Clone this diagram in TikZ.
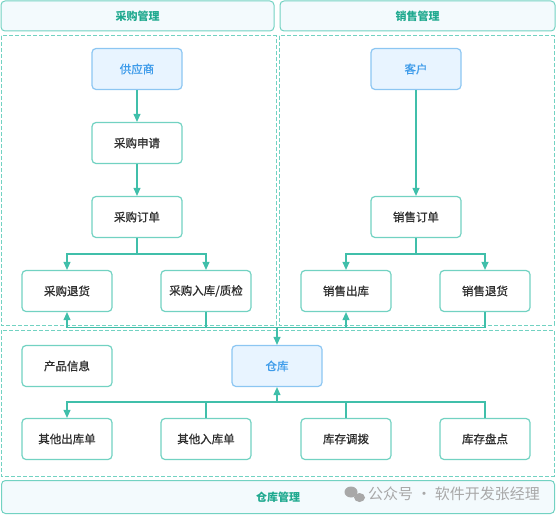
\documentclass[tikz,border=0pt]{standalone}
\usepackage{fontspec}
\setmainfont{Noto Sans CJK SC}
\newfontfamily\medfont[FakeBold=0.9]{Noto Sans CJK SC}
\usetikzlibrary{arrows.meta}
\definecolor{nodeb}{HTML}{72D2C2}
\definecolor{linec}{HTML}{40BFAA}
\definecolor{hdrfill}{HTML}{F3FAFD}
\definecolor{hdrtext}{HTML}{1FA98F}
\definecolor{bluefill}{HTML}{E8F4FF}
\definecolor{blueborder}{HTML}{8CC6F2}
\definecolor{bluetext}{HTML}{3D9BEA}
\definecolor{txt}{HTML}{2E2E2E}
\definecolor{wm}{HTML}{A8A8A8}
\tikzset{
  box/.style={draw=nodeb, line width=1.2pt, rounded corners=4pt, fill=white,
    minimum width=90pt, minimum height=41pt, inner sep=0pt,
    font=\medfont\fontsize{11.5}{13}\selectfont, text=txt},
  bluebox/.style={box, draw=blueborder, fill=bluefill, text=bluetext},
  hdrbox/.style={draw=nodeb, line width=1pt, rounded corners=4pt, fill=hdrfill,
    inner sep=0pt, font=\fontsize{11}{13}\selectfont\bfseries, text=hdrtext},
  panel/.style={draw=nodeb, line width=1pt, dash pattern=on 4pt off 2pt},
  conn/.style={draw=linec, line width=1.1pt},
  arr/.style={conn, -{Triangle[length=8pt,width=7pt]}}
}
\begin{document}
\begin{tikzpicture}[x=1pt,y=-1pt]
\useasboundingbox (0,0) rectangle (556,516);
% headers
\node[hdrbox, minimum width=273pt, minimum height=30pt] (h1) at (137.5,16) {采购管理};
\node[hdrbox, minimum width=275pt, minimum height=30pt] (h2) at (417.5,16) {销售管理};
\node[hdrbox, minimum width=553pt, minimum height=33pt] (h3) at (278,497) {仓库管理};
% panels
\draw[panel] (1,36) rectangle (276,325);
\draw[panel] (279,36) rectangle (554,325);
\draw[panel] (1,330) rectangle (554,476);
% purchase
\node[bluebox] (sup) at (137,69) {供应商};
\node[box] (req) at (137,143) {采购申请};
\node[box] (po) at (137,217) {采购订单};
\node[box] (ret) at (67,291) {采购退货};
\node[box] (pin) at (206,291) {采购入库/质检};
% sales
\node[bluebox] (cust) at (416,69) {客户};
\node[box] (so) at (416,217) {销售订单};
\node[box] (sout) at (346,291) {销售出库};
\node[box] (sret) at (485,291) {销售退货};
% warehouse
\node[box] (prod) at (67,366) {产品信息};
\node[bluebox] (wh) at (277,366) {仓库};
\node[box] (oout) at (67,439) {其他出库单};
\node[box] (oin) at (206,439) {其他入库单};
\node[box] (move) at (346,439) {库存调拨};
\node[box] (cnt) at (485,439) {库存盘点};
% connectors
\draw[arr] (sup) -- (req);
\draw[arr] (req) -- (po);
\coordinate (b1) at (137,254);
\draw[arr] (po.south) -- (b1) -| (ret.north);
\draw[arr] (b1) -| (pin.north);
\draw[arr] (cust) -- (so);
\coordinate (b2) at (416,254);
\draw[arr] (so.south) -- (b2) -| (sout.north);
\draw[arr] (b2) -| (sret.north);
\coordinate (m) at (277,327.5);
\draw[conn] (pin.south) |- (m);
\draw[conn] (sret.south) |- (m);
\draw[arr] (m) -- (wh.north);
\draw[arr] (m) -| (ret.south);
\draw[arr] (m) -| (sout.south);
\coordinate (n) at (277,402);
\draw[arr] (n) -- (wh.south);
\draw[arr] (n) -| (oout.north);
\draw[conn] (oin.north) |- (n);
\draw[conn] (move.north) |- (n);
\draw[conn] (cnt.north) |- (n);
% watermark
\fill[wm] (351,492) ellipse (6.5pt and 5.5pt);
\fill[wm] (359.5,497.5) ellipse (5.5pt and 4.5pt);
\node[anchor=west, text=wm, font=\fontsize{15}{17}\selectfont, inner sep=0pt] (wmt) at (368,494) {公众号 · 软件开发张经理};
\end{tikzpicture}
\end{document}
